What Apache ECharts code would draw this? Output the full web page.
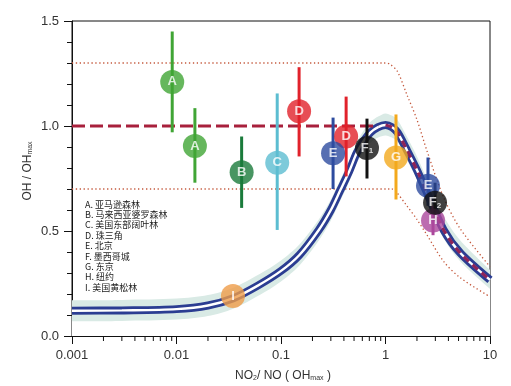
<!DOCTYPE html>
<html><head><meta charset="utf-8">
<script src="https://cdn.jsdelivr.net/npm/echarts@6/dist/echarts.min.js"></script>
<style>html,body{margin:0;padding:0;background:#fff}#c{width:511px;height:386px}</style>
</head><body><div id="c"></div>
<script>
// ---- data ----
const siteLabel = ['A','A','B','C','D','D','E','F1','G','E','H','F2','I'];
const siteX  = [0.0091, 0.015, 0.042, 0.092, 0.149, 0.42, 0.315, 0.665, 1.26, 2.55, 2.85, 2.98, 0.0347];
const siteY  = [1.21, 0.905, 0.78, 0.825, 1.07, 0.95, 0.87, 0.895, 0.85, 0.715, 0.55, 0.635, 0.19];
const siteLo = [0.97, 0.73, 0.61, 0.505, 0.855, 0.76, 0.70, 0.75, 0.65, 0.62, 0.48, 0.55, null];
const siteHi = [1.45, 1.085, 0.95, 1.155, 1.28, 1.14, 1.04, 1.035, 1.055, 0.85, 0.62, 0.73, null];

const curveX = [0.001, 0.003, 0.01, 0.02, 0.035, 0.06, 0.1, 0.15, 0.23, 0.3, 0.37, 0.45, 0.53, 0.62, 0.72, 0.85, 1.0, 1.15, 1.3, 1.6, 2.0, 2.5, 3.6, 5.2, 10];
const curveY = [0.12, 0.122, 0.128, 0.145, 0.18, 0.24, 0.31, 0.386, 0.505, 0.6, 0.695, 0.785, 0.871, 0.93, 0.97, 0.995, 1.005, 0.995, 0.97, 0.886, 0.79, 0.68, 0.505, 0.395, 0.267];
const bandLo = [0.07, 0.072, 0.078, 0.095, 0.13, 0.19, 0.26, 0.336, 0.455, 0.55, 0.645, 0.735, 0.821, 0.88, 0.92, 0.945, 0.955, 0.945, 0.925, 0.84, 0.745, 0.64, 0.465, 0.355, 0.225];
const bandHi = [0.17, 0.172, 0.178, 0.195, 0.23, 0.29, 0.36, 0.436, 0.555, 0.65, 0.745, 0.835, 0.921, 0.98, 1.02, 1.045, 1.06, 1.05, 1.03, 0.95, 0.855, 0.745, 0.57, 0.455, 0.315];

const refLineX = [0.001, 0.85];
const refLineY = [1.0, 1.0];
const descX = [1.0, 1.15, 1.3, 1.6, 2.0, 2.5, 3.6, 5.2, 10];
const descY = [1.005, 0.995, 0.97, 0.886, 0.79, 0.68, 0.505, 0.395, 0.267];

const upperX = [0.001, 1.0, 1.1, 1.3, 1.6, 2.0, 2.5, 3.6, 5.2, 10];
const upperY = [1.3, 1.3, 1.295, 1.26, 1.15, 1.03, 0.88, 0.66, 0.51, 0.33];
const lowerX = [0.001, 1.15, 1.25, 1.6, 2.0, 2.5, 3.6, 5.2, 10];
const lowerY = [0.7, 0.7, 0.69, 0.62, 0.555, 0.48, 0.355, 0.277, 0.187];

const xMinorTicks = [0.002,0.003,0.004,0.005,0.006,0.007,0.008,0.009,
  0.02,0.03,0.04,0.05,0.06,0.07,0.08,0.09,
  0.2,0.3,0.4,0.5,0.6,0.7,0.8,0.9,
  2,3,4,5,6,7,8,9];

const siteNames = ['A. 亚马逊森林','B. 马来西亚婆罗森林','C. 美国东部阔叶林','D. 珠三角','E. 北京','F. 墨西哥城','G. 东京','H. 纽约','I. 美国黄松林'];

// ---- styles ----
const palette = {A:'#40a535', B:'#1a7b3b', C:'#5cbdd1', D:'#e1222b', E:'#2d4b9f', F:'#111111', G:'#f3a91d', H:'#ab479c', I:'#ef9c48'};
const FONT = 'Liberation Sans, Arial, sans-serif';

const zip = (xs, ys) => xs.map((x, i) => [x, ys[i]]);

const chart = echarts.init(document.getElementById('c'), null, {renderer:'canvas'});

const errData = siteX.map((x, i) => siteLo[i] == null ? null : {value:[x, siteLo[i], siteHi[i]], itemStyle:{color: palette[siteLabel[i][0]]}}).filter(Boolean);
const ptData = siteX.map((x, i) => ({value:[x, siteY[i]], name: siteLabel[i], itemStyle:{color: palette[siteLabel[i][0]]}}));

chart.setOption({
  animation:false,
  backgroundColor:'#fff',
  grid:{left:72, right:21, top:21, bottom:50, show:true, borderColor:'#111', borderWidth:1, backgroundColor:'transparent'},
  xAxis:{type:'log', logBase:10, min:0.001, max:10,
    axisLine:{show:true, lineStyle:{color:'#111', width:1}},
    axisTick:{show:true, length:8, lineStyle:{color:'#111'}},
    splitLine:{show:false}, minorTick:{show:false}, minorSplitLine:{show:false},
    axisLabel:{color:'#333', fontSize:13, fontFamily:FONT, margin:13,
      formatter: v => String(+v.toPrecision(1))}
  },
  yAxis:{type:'value', min:0, max:1.5, interval:0.5,
    axisLine:{show:true, lineStyle:{color:'#111', width:1}},
    axisTick:{show:true, length:8, lineStyle:{color:'#111'}},
    minorTick:{show:true, splitNumber:5, length:5, lineStyle:{color:'#111'}},
    splitLine:{show:false},
    axisLabel:{color:'#333', fontSize:13, fontFamily:FONT, margin:13, formatter: v => v.toFixed(1)}
  },
  graphic:[
    {type:'text', x:28, y:171, rotation:Math.PI/2, z:10,
      style:{text:'OH / OH{sub|max}', align:'center', verticalAlign:'middle', fill:'#333', font:'12px '+FONT,
        rich:{sub:{fontSize:7, fontFamily:FONT, fill:'#333', verticalAlign:'bottom', padding:[4,0,0,0]}}}},
    {type:'text', x:283, y:376, z:10,
      style:{text:'NO{sub|2}/ NO ( OH{sub|max} )', align:'center', verticalAlign:'middle', fill:'#333', font:'12px '+FONT,
        rich:{sub:{fontSize:7, fontFamily:FONT, fill:'#333', verticalAlign:'bottom', padding:[4,0,0,0]}}}},
    {type:'text', x:85, y:199, z:10,
      style:{text:siteNames.join('\n'), align:'left', verticalAlign:'top', fill:'#222', font:'9px Noto Sans CJK SC, sans-serif', lineHeight:10.4}}
  ],
  series:[
    {type:'custom', name:'minorTicks', silent:true, clip:false, z:1,
      data: xMinorTicks.map(v => [v, 0]),
      renderItem:(params, api) => {
        const p = api.coord([api.value(0), 0]);
        return {type:'line', shape:{x1:p[0], y1:p[1], x2:p[0], y2:p[1]+5}, style:{stroke:'#111', lineWidth:1}};
      }},
    {type:'line', name:'bandHi', smooth:0.3, showSymbol:false, silent:true, z:1,
      lineStyle:{width:0, opacity:0}, areaStyle:{color:'#d9eae5', opacity:1}, data: zip(curveX, bandHi)},
    {type:'line', name:'bandLo', smooth:0.3, showSymbol:false, silent:true, z:1,
      lineStyle:{width:0, opacity:0}, areaStyle:{color:'#ffffff', opacity:1}, data: zip(curveX, bandLo)},
    {type:'line', name:'upper', smooth:0.3, showSymbol:false, silent:true, z:2,
      lineStyle:{color:'#c4583c', width:1.3, type:[1.3,2.6]}, data: zip(upperX, upperY)},
    {type:'line', name:'lower', smooth:0.3, showSymbol:false, silent:true, z:2,
      lineStyle:{color:'#c4583c', width:1.3, type:[1.3,2.6]}, data: zip(lowerX, lowerY)},
    {type:'line', name:'curveNavy', smooth:0.3, showSymbol:false, silent:true, z:3,
      lineStyle:{color:'#2b3d92', width:8}, data: zip(curveX, curveY)},
    {type:'line', name:'curveWhite', smooth:0.3, showSymbol:false, silent:true, z:3,
      lineStyle:{color:'#ffffff', width:2.4}, data: zip(curveX, curveY)},
    {type:'line', name:'refFlat', showSymbol:false, silent:true, z:3,
      lineStyle:{color:'#a8203c', width:3.2, type:[13,5]}, data: zip(refLineX, refLineY)},
    {type:'line', name:'refDesc', smooth:0.3, showSymbol:false, silent:true, z:3,
      lineStyle:{color:'#8e2458', width:3.2, type:[7,5]}, data: zip(descX, descY)},
    {type:'custom', name:'errbars', silent:true, z:4,
      data: errData,
      renderItem:(params, api) => {
        const a = api.coord([api.value(0), api.value(1)]);
        const b = api.coord([api.value(0), api.value(2)]);
        return {type:'line', shape:{x1:a[0], y1:a[1], x2:b[0], y2:b[1]}, style:{stroke:api.visual('color'), lineWidth:3}};
      }},
    {type:'scatter', name:'sites', symbol:'circle', symbolSize:24, z:5, silent:true,
      data: ptData,
      label:{show:true, position:'inside', color:'#fff', fontSize:13, fontWeight:'bold', fontFamily:FONT,
        formatter: p => p.name.length > 1 ? p.name[0] + '{s|' + p.name.slice(1) + '}' : p.name,
        rich:{s:{fontSize:8, fontWeight:'bold', color:'#fff', fontFamily:FONT, verticalAlign:'bottom', padding:[6,0,0,0]}}}
    }
  ]
});
</script></body></html>
